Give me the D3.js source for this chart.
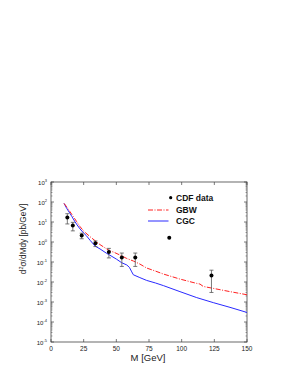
<!DOCTYPE html>
<html>
<head>
<meta charset="utf-8">
<script src="https://cdn.jsdelivr.net/npm/d3@7"></script>
<style>
  body { margin: 0; background: #fff; }
  svg { display: block; }
  text { font-family: "Liberation Sans", Arial, sans-serif; }
</style>
</head>
<body>
<div id="chart"></div>
<script>
const W = 298, H = 385;

// CDF data points: mass, value, error
const cdfMass = [12.5, 16.7, 23.5, 34, 44.3, 54.2, 64.5, 90.5, 122.8];
const cdfValue = [17, 6.6, 2.1, 0.86, 0.32, 0.17, 0.17, 1.65, 0.021];
const cdfError = [9, 3, 0.65, 0.27, 0.16, 0.11, 0.11, 0, 0.018];

// GBW model curve
const gbwMass = [10, 12, 14.5, 17, 19.6, 22.2, 25, 29.8, 35, 37.5, 45, 47.7, 53, 58, 63, 68, 73.2, 80, 86, 98.7, 111.5, 114, 116.5, 124.2, 137, 150];
const gbwValue = [85, 57, 33, 19, 10.5, 5.9, 3.5, 1.86, 1.0, 0.74, 0.355, 0.316, 0.22, 0.15, 0.112, 0.079, 0.05, 0.035, 0.025, 0.014, 0.0085, 0.0079, 0.006, 0.0048, 0.0033, 0.0023];

// CGC model curve
const cgcMass = [10, 12, 14.5, 16, 18, 20, 22.2, 25, 27, 28.5, 30, 33.7, 37.5, 42.6, 45, 50, 54, 58, 60, 61.5, 63, 68, 73.2, 80, 86, 98.7, 111.5, 124.2, 137, 150];
const cgcValue = [85, 48, 27, 18.6, 11.2, 7.1, 4.5, 2.8, 2.1, 1.58, 1.2, 0.63, 0.45, 0.27, 0.22, 0.14, 0.093, 0.071, 0.054, 0.035, 0.023, 0.0166, 0.012, 0.0089, 0.0066, 0.0033, 0.00166, 0.00093, 0.00054, 0.0003];

const xTicks = [0, 25, 50, 75, 100, 125, 150];
const yExponents = [3, 2, 1, 0, -1, -2, -3, -4, -5];

const PL = 51, PR = 247, PT = 182, PB = 342;

const svg = d3.select('#chart').append('svg')
  .attr('width', W)
  .attr('height', H);

svg.append('rect').attr('width', W).attr('height', H).attr('fill', '#fff');

const x = d3.scaleLinear().domain([0, 150]).range([PL, PR]);
const y = d3.scaleLog().domain([1e-5, 1e3]).range([PB, PT]);

// frame
svg.append('rect')
  .attr('x', PL).attr('y', PT)
  .attr('width', PR - PL).attr('height', PB - PT)
  .attr('fill', 'none')
  .attr('stroke', '#444')
  .attr('stroke-width', 0.8);

const tickColor = '#444';

// y ticks (major + minor), inward on both sides
const yMinor = [];
for (let e = -5; e < 3; e++) {
  for (let k = 2; k <= 9; k++) yMinor.push(k * Math.pow(10, e));
}
const yMajor = yExponents.map(e => Math.pow(10, e));

[PL, PR].forEach((xp, i) => {
  const dir = i === 0 ? 1 : -1;
  svg.append('g').selectAll('line.major')
    .data(yMajor).enter().append('line')
    .attr('x1', xp).attr('x2', xp + dir * 3)
    .attr('y1', d => y(d)).attr('y2', d => y(d))
    .attr('stroke', tickColor).attr('stroke-width', 0.7);
  svg.append('g').selectAll('line.minor')
    .data(yMinor).enter().append('line')
    .attr('x1', xp).attr('x2', xp + dir * 1.5)
    .attr('y1', d => y(d)).attr('y2', d => y(d))
    .attr('stroke', tickColor).attr('stroke-width', 0.5);
});

// x ticks, inward top and bottom
[PB, PT].forEach((yp, i) => {
  const dir = i === 0 ? -1 : 1;
  svg.append('g').selectAll('line')
    .data(xTicks).enter().append('line')
    .attr('x1', d => x(d)).attr('x2', d => x(d))
    .attr('y1', yp).attr('y2', yp + dir * 3)
    .attr('stroke', tickColor).attr('stroke-width', 0.7);
});

// y tick labels
const yLab = svg.append('g').selectAll('text')
  .data(yExponents).enter().append('text')
  .attr('x', 47)
  .attr('y', d => y(Math.pow(10, d)) + 2.5)
  .attr('text-anchor', 'end')
  .attr('font-size', 6)
  .attr('fill', '#222');
yLab.append('tspan').text('10');
yLab.append('tspan')
  .attr('dy', -3)
  .attr('font-size', 4)
  .text(d => d);

// x tick labels
svg.append('g').selectAll('text')
  .data(xTicks).enter().append('text')
  .attr('x', d => x(d))
  .attr('y', 351)
  .attr('text-anchor', 'middle')
  .attr('font-size', 6.5)
  .attr('fill', '#222')
  .text(d => d);

// axis titles
svg.append('text')
  .attr('x', 148).attr('y', 361)
  .attr('text-anchor', 'middle')
  .attr('font-size', 9.5)
  .attr('fill', '#222')
  .text('M [GeV]');

const yt = svg.append('text')
  .attr('transform', 'translate(26,239) rotate(-90)')
  .attr('text-anchor', 'middle')
  .attr('font-size', 8.3)
  .attr('fill', '#222');
yt.append('tspan').text('d');
yt.append('tspan').attr('dy', -3).attr('font-size', 5.5).text('2');
yt.append('tspan').attr('dy', 3).text('σ/dMdy [pb/GeV]');

// curves
const line = d3.line()
  .x(d => x(d[0]))
  .y(d => y(d[1]));

svg.append('path')
  .datum(cgcMass.map((m, i) => [m, cgcValue[i]]))
  .attr('fill', 'none')
  .attr('stroke', '#2a2aff')
  .attr('stroke-width', 1)
  .attr('d', line);

svg.append('path')
  .datum(gbwMass.map((m, i) => [m, gbwValue[i]]))
  .attr('fill', 'none')
  .attr('stroke', '#ff2020')
  .attr('stroke-width', 1)
  .attr('stroke-dasharray', '5,1.5,1,1.5')
  .attr('d', line);

// CDF data with error bars
const pts = cdfMass.map((m, i) => ({ m: m, v: cdfValue[i], e: cdfError[i] }));
const errG = svg.append('g').selectAll('g')
  .data(pts.filter(d => d.e > 0)).enter().append('g')
  .attr('stroke', '#555')
  .attr('stroke-width', 0.8);
errG.append('line')
  .attr('x1', d => x(d.m)).attr('x2', d => x(d.m))
  .attr('y1', d => y(d.v + d.e)).attr('y2', d => y(Math.max(d.v - d.e, 1e-6)));
errG.append('line')
  .attr('x1', d => x(d.m) - 2).attr('x2', d => x(d.m) + 2)
  .attr('y1', d => y(d.v + d.e)).attr('y2', d => y(d.v + d.e));
errG.append('line')
  .attr('x1', d => x(d.m) - 2).attr('x2', d => x(d.m) + 2)
  .attr('y1', d => y(Math.max(d.v - d.e, 1e-6))).attr('y2', d => y(Math.max(d.v - d.e, 1e-6)));

svg.append('g').selectAll('circle')
  .data(pts).enter().append('circle')
  .attr('cx', d => x(d.m))
  .attr('cy', d => y(d.v))
  .attr('r', 2)
  .attr('fill', '#000');

// legend
const lg = svg.append('g');
lg.append('circle').attr('cx', 170.7).attr('cy', 197.7).attr('r', 1.6).attr('fill', '#000');
lg.append('text').attr('x', 176).attr('y', 200.5).attr('font-size', 8.5).attr('font-weight', 'bold').attr('fill', '#111').text('CDF data');
lg.append('line').attr('x1', 148).attr('x2', 168.5).attr('y1', 210).attr('y2', 210)
  .attr('stroke', '#ff2020').attr('stroke-width', 1).attr('stroke-dasharray', '5,1.5,1,1.5');
lg.append('text').attr('x', 176).attr('y', 213).attr('font-size', 8.5).attr('font-weight', 'bold').attr('fill', '#111').text('GBW');
lg.append('line').attr('x1', 148).attr('x2', 168.5).attr('y1', 221).attr('y2', 221)
  .attr('stroke', '#2a2aff').attr('stroke-width', 1);
lg.append('text').attr('x', 176).attr('y', 224).attr('font-size', 8.5).attr('font-weight', 'bold').attr('fill', '#111').text('CGC');
</script>
</body>
</html>
